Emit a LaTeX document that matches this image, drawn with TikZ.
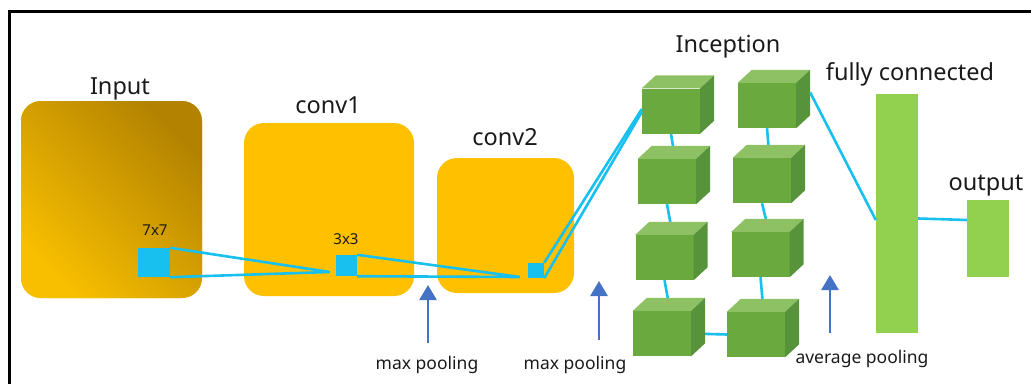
\documentclass[tikz,border=0pt]{standalone}
\usepackage{fontspec}
\setmainfont{Noto Sans}
\usetikzlibrary{arrows.meta,backgrounds}

\definecolor{gold}{HTML}{FFC000}
\definecolor{golddark}{HTML}{B38300}
\definecolor{goldmid}{HTML}{DFA700}
\definecolor{goldlight}{HTML}{F8BF00}
\definecolor{link}{HTML}{17C0EE}
\definecolor{pool}{HTML}{4472C4}
\definecolor{cubefront}{HTML}{6AA93D}
\definecolor{cubetop}{HTML}{8EC163}
\definecolor{cubeside}{HTML}{57933A}
\definecolor{dense}{HTML}{92D050}
\definecolor{ink}{HTML}{1A1A1A}

\tikzset{
  layerbox/.style={fill=gold, rounded corners=20pt, inner sep=0pt},
  patch/.style={fill=link, inner sep=0pt},
  cubebox/.style={fill=cubefront, minimum width=58pt, minimum height=45pt, inner sep=0pt},
  fcbox/.style={fill=dense, inner sep=0pt},
  link/.style={draw=link, line width=2.6pt},
  poolarrow/.style={draw=pool, line width=2.8pt, -{Triangle[width=17pt,length=15pt]}},
  biglabel/.style={font=\fontsize{23.5}{27}\selectfont, text=ink, anchor=base, inner sep=0pt},
  smalllabel/.style={font=\fontsize{17.5}{20}\selectfont, text=ink, anchor=base, inner sep=0pt},
  sizelabel/.style={font=\fontsize{15}{18}\selectfont, text=ink, anchor=base, inner sep=0pt}
}

\begin{document}
\begin{tikzpicture}[x=1pt, y=-1pt]
\useasboundingbox (0,0) rectangle (1031,383);

% frame
\draw[line width=3.2pt, line cap=rect] (9.5,390) -- (9.5,11.5) -- (1040,11.5);

% convolution stages
\node[layerbox, shade, top color=golddark, middle color=goldmid, bottom color=goldlight,
      shading angle=-45, minimum width=181pt, minimum height=197pt] (input) at (111.5,199.5) {};
\node[layerbox, minimum width=170pt, minimum height=173pt] (conv1) at (329,209.5) {};
\node[layerbox, minimum width=137pt, minimum height=135pt] (conv2) at (505.5,225.5) {};

\node[biglabel] (tinput) at (120,94) {Input};
\node[biglabel] (tconv1) at (328,113) {conv1};
\node[biglabel] (tconv2) at (505,145) {conv2};

% receptive field patches
\node[patch, minimum width=32pt, minimum height=29pt] (k7) at (154,262.5) {};
\node[patch, minimum width=21pt, minimum height=21pt] (k3) at (346.5,265.5) {};
\node[patch, minimum width=16pt, minimum height=15pt] (k1) at (536,270.5) {};
\node[sizelabel] (t7) at (155,235) {7x7};
\node[sizelabel] (t3) at (346,244) {3x3};

\coordinate (apex1) at ([shift={(-6,6.5)}]k3.west);
\coordinate (apex2) at ([shift={(-8,6.5)}]k1.west);
\draw[link] (k7.north east) -- (apex1) -- (k7.south east);
\draw[link] (k3.north east) -- (apex2) -- (k3.south east);

% inception modules (front faces)
\node[cubebox] (a1) at (671,111) {};
\node[cubebox] (a2) at (667,181.5) {};
\node[cubebox] (a3) at (664.5,257.5) {};
\node[cubebox] (a4) at (662,333.5) {};
\node[cubebox] (b1) at (767,105.5) {};
\node[cubebox] (b2) at (762,180.5) {};
\node[cubebox] (b3) at (760.5,254.5) {};
\node[cubebox] (b4) at (756,334.5) {};

% links between modules, behind the cubes
\begin{scope}[on background layer]
  \foreach \u/\v in {a1/a2,a2/a3,a3/a4,b1/b2,b2/b3,b3/b4}
    \draw[link] (\u.south) -- ([shift={(7,-6)}]\v.north);
  \draw[link] (a4.east) -- (b4.west);
\end{scope}

% top and side faces of the cubes
\foreach \c in {a1,a2,a3,a4,b1,b2,b3,b4}{
  \fill[cubetop] (\c.north west) -- ([shift={(14,-13)}]\c.north west)
     -- ([shift={(14,-13)}]\c.north east) -- (\c.north east) -- cycle;
  \fill[cubeside] (\c.north east) -- ([shift={(14,-13)}]\c.north east)
     -- ([shift={(14,-13)}]\c.south east) -- (\c.south east) -- cycle;
}
\node[biglabel] (tinc) at (728,52) {Inception};

% conv2 to inception
\draw[link] (k1.north east) -- ([yshift=2]a1.west);
\draw[link] (k1.south east) -- ([yshift=-1]a1.west);

% fully connected and output
\node[fcbox, minimum width=42pt, minimum height=239pt] (fc) at (897,213.5) {};
\node[fcbox, minimum width=42pt, minimum height=77pt] (out) at (988,238.5) {};
\node[biglabel] (tfc) at (910,80) {fully connected};
\node[biglabel] (tout) at (986,190) {output};

\draw[link] ([shift={(14,-13)}]b1.east) -- ([yshift=-6.5]fc.west);
\draw[link] ([yshift=-5]fc.east) -- ([yshift=18.5]out.west);

% pooling steps
\coordinate (p1a) at (428,343); \coordinate (p1b) at (428,285);
\coordinate (p2a) at (599,340); \coordinate (p2b) at (599,281);
\coordinate (p3a) at (830,333); \coordinate (p3b) at (830,275);
\draw[poolarrow] (p1a) -- (p1b);
\draw[poolarrow] (p2a) -- (p2b);
\draw[poolarrow] (p3a) -- (p3b);
\node[smalllabel] (tp1) at (427,369) {max pooling};
\node[smalllabel] (tp2) at (575,369) {max pooling};
\node[smalllabel] (tp3) at (862,363) {average pooling};
\end{tikzpicture}
\end{document}
